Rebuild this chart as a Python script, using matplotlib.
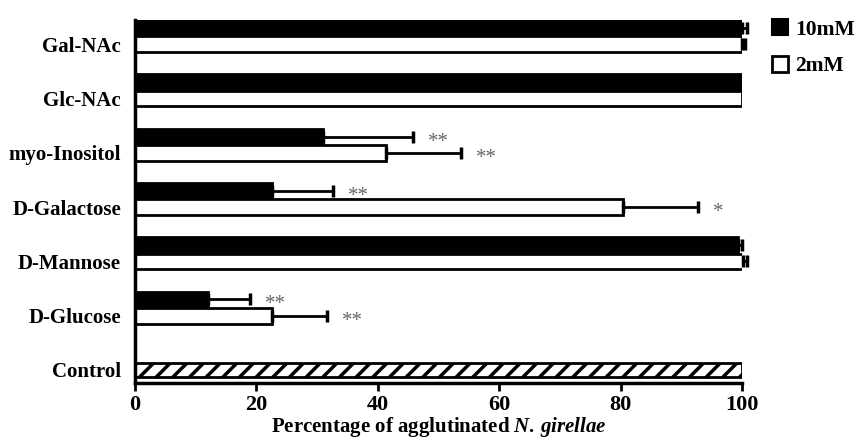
import numpy as np
import matplotlib
matplotlib.use("Agg")
import matplotlib.pyplot as plt
from matplotlib.patches import Patch

plt.rcParams['font.family'] = ['Liberation Serif', 'DejaVu Serif']
plt.rcParams['font.weight'] = 'bold'
plt.rcParams['hatch.linewidth'] = 2.5
plt.rcParams['mathtext.fontset'] = 'custom'
plt.rcParams['mathtext.it'] = 'Liberation Serif:italic:bold'
plt.rcParams['mathtext.rm'] = 'Liberation Serif:bold'

# Sugars, bottom to top (Control drawn separately)
sugars = ['D-Glucose', 'D-Mannose', 'D-Galactose', 'myo-Inositol', 'Glc-NAc', 'Gal-NAc']
mean_10 = [12.0, 99.3, 22.6, 31.0, 100.4, 100.0]
err_10 = [7.0, 0.7, 10.0, 14.8, 0.0, 0.8]
mean_2 = [22.6, 100.2, 80.4, 41.4, 100.0, 100.0]
err_2 = [9.0, 0.6, 12.3, 12.3, 0.0, 0.5]
sig_10 = ['**', '', '**', '**', '', '']
sig_2 = ['**', '', '*', '**', '', '']
control = 100.0

fig = plt.figure(figsize=(8.59, 4.42), dpi=100)
ax = fig.add_axes([0.157, 0.1335, 0.707, 0.8215])

pos = np.arange(1, len(sugars) + 1)
h = 0.29
lw = 2.0

ax.barh(pos + 0.3, mean_10, height=h, color='black', edgecolor='black', linewidth=lw)
ax.barh(pos, mean_2, height=h, color='white', edgecolor='black', linewidth=lw)
ax.barh([0], [control], height=0.25, color='white', edgecolor='black',
        linewidth=lw, hatch='//')

# error bars (one-sided), skip zero errors
for m, e, y in [(mean_10, err_10, pos + 0.3), (mean_2, err_2, pos)]:
    m = np.array(m); e = np.array(e)
    k = e > 0
    ax.errorbar(m[k], y[k], xerr=[np.zeros(k.sum()), e[k]], fmt='none',
                ecolor='black', elinewidth=2, capsize=4, capthick=2.5, clip_on=False)

# significance marks
for i in range(len(sugars)):
    if sig_10[i]:
        ax.text(mean_10[i] + err_10[i] + 2.5, pos[i] + 0.3 - 0.1, sig_10[i], ha='left',
                va='center', fontsize=15, fontweight='normal', color='#666666')
    if sig_2[i]:
        ax.text(mean_2[i] + err_2[i] + 2.5, pos[i] - 0.1, sig_2[i], ha='left',
                va='center', fontsize=15, fontweight='normal', color='#666666')

ax.set_xlim(0, 100)
ax.set_ylim(-0.24, 6.45)
ax.set_yticks(np.arange(0, len(sugars) + 1))
ax.set_yticklabels(['Control'] + sugars, fontsize=15, fontweight='bold')
ax.set_xticks(np.arange(0, 101, 20))
ax.tick_params(axis='x', labelsize=16, length=6, width=2, direction='out', pad=3)
ax.tick_params(axis='y', length=0, pad=10)
for t in ax.get_xticklabels():
    t.set_fontweight('bold')

ax.spines['top'].set_visible(False)
ax.spines['right'].set_visible(False)
ax.spines['left'].set_linewidth(2.5)
ax.spines['bottom'].set_linewidth(2.5)

ax.set_xlabel('Percentage of agglutinated $\\mathit{N.\\,girellae}$', fontsize=15,
              fontweight='bold', labelpad=0)

handles = [Patch(facecolor='black', edgecolor='black', linewidth=1.5),
           Patch(facecolor='white', edgecolor='black', linewidth=2)]
fig.legend(handles, ['10mM', '2mM'], loc='upper left', bbox_to_anchor=(0.876, 1.0),
           frameon=False, handlelength=0.75, handleheight=0.75, labelspacing=0.75,
           handletextpad=0.35, prop={'weight': 'bold', 'size': 15.5})

fig.savefig('out.png', dpi=100)
